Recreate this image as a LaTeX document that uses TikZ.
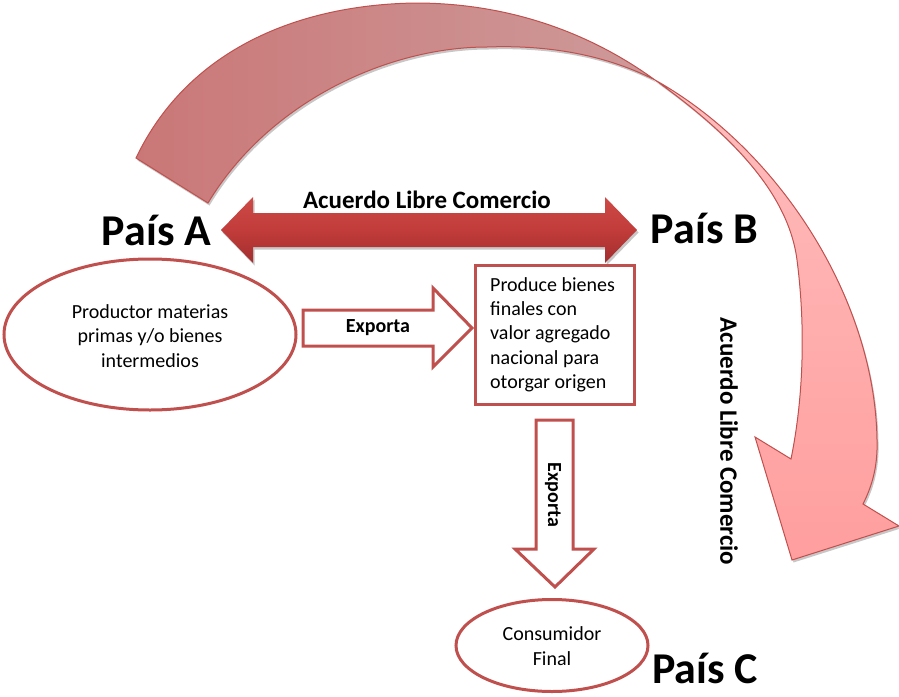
\documentclass[tikz,border=0pt]{standalone}
\usepackage{fontspec}
\setmainfont{Carlito}
\usetikzlibrary{shapes.geometric,shadows}
\definecolor{edgec}{HTML}{C0504D}
\definecolor{darkL}{HTML}{CA7777}
\definecolor{darkR}{HTML}{CE9A9A}
\definecolor{pinkT}{HTML}{FFBDBD}
\definecolor{pinkB}{HTML}{FF9E9E}
\definecolor{redT}{HTML}{CD4A47}
\definecolor{redM}{HTML}{C13C3A}
\definecolor{redB}{HTML}{A22E2E}
\tikzset{
  softshadow/.style={drop shadow={opacity=.22, shadow xshift=1.5pt, shadow yshift=-2.5pt, fill=black}},
  darkband/.style={draw=edgec, line width=1pt, left color=darkL, right color=darkR, softshadow},
  pinkband/.style={draw=edgec, line width=1pt, top color=pinkT, bottom color=pinkB, softshadow},
  redarrow/.style={top color=redT, bottom color=redB, middle color=redM, softshadow},
  blockarrow/.style={draw=edgec, line width=3pt, fill=white, line join=miter},
  outlined/.style={draw=edgec, line width=3pt, fill=white, inner sep=0pt},
  body/.style={font=\fontsize{20}{24.3}\selectfont},
  bodybold/.style={font=\fontsize{20}{24}\selectfont\bfseries, inner sep=0pt},
  country/.style={font=\fontsize{44}{50}\selectfont\bfseries, inner sep=0pt, anchor=base},
  agreement/.style={font=\fontsize{25}{30}\selectfont\bfseries, inner sep=0pt},
}
\begin{document}
\begin{tikzpicture}[x=1pt,y=-1pt]
\useasboundingbox (0,0) rectangle (899,696);

% big curved arrow: dark back part
\path[darkband] (136,158) .. controls (185,55) and (290,5) .. (415,3)
  .. controls (520,3) and (600,40) .. (655,80)
  .. controls (600,52) and (540,45) .. (487,47)
  .. controls (390,47) and (270,100) .. (208,203) -- cycle;
% big curved arrow: light front part with head
\path[pinkband] (655,80) .. controls (780,150) and (875,300) .. (877,440)
  .. controls (878,470) and (870,490) .. (863,504)
  -- (899,526) -- (792,560) -- (755,437) -- (791,459)
  .. controls (803,400) and (806,330) .. (797,260)
  .. controls (788,190) and (725,130) .. (655,80) -- cycle;

% horizontal double arrow
\path[redarrow] (221,230) -- (253,197) -- (253,213) -- (605,213) -- (605,197)
  -- (637,230) -- (605,263) -- (605,247) -- (253,247) -- (253,263) -- cycle;
\node[agreement, anchor=base] (alc1) at (427,208) {Acuerdo Libre Comercio};

% countries
\node[country] (pa) at (156.5,245) {País A};
\node[country] (pb) at (704.5,243) {País B};
\node[country] (pc) at (705,683) {País C};

% producer ellipse
\node[outlined, ellipse, minimum width=292pt, minimum height=151pt] (prod) at (150,334.5) {};
\node[body, align=center] (prodt) at (150,336) {Productor materias\\primas y/o bienes\\intermedios};

% export arrow right
\path[blockarrow] (303,310) -- (433,310) -- (433,288) -- (472,328) -- (433,367) -- (433,346) -- (303,346) -- cycle;
\node[bodybold] (exp1) at (378,328) {Exporta};

% box
\node[outlined, rectangle, minimum width=159pt, minimum height=139pt] (box) at (554.5,334.5) {};
\node[body, align=left, anchor=west, inner sep=0pt] (boxt) at (490,334.5)
  {Produce bienes\\finales con\\valor agregado\\nacional para\\otorgar origen};

% export arrow down
\path[blockarrow] (536,420) -- (573,420) -- (573,549) -- (594,549) -- (555,587) -- (515,549) -- (536,549) -- cycle;
\node[bodybold, rotate=-90] (exp2) at (553,495) {Exporta};

% consumer ellipse
\node[outlined, ellipse, minimum width=192pt, minimum height=92pt] (cons) at (552,645.5) {};
\node[body, align=center] (const) at (552,646) {Consumidor\\Final};

% vertical agreement label
\node[agreement, rotate=-90] (alc2) at (729,441.5) {Acuerdo Libre Comercio};
\end{tikzpicture}
\end{document}
